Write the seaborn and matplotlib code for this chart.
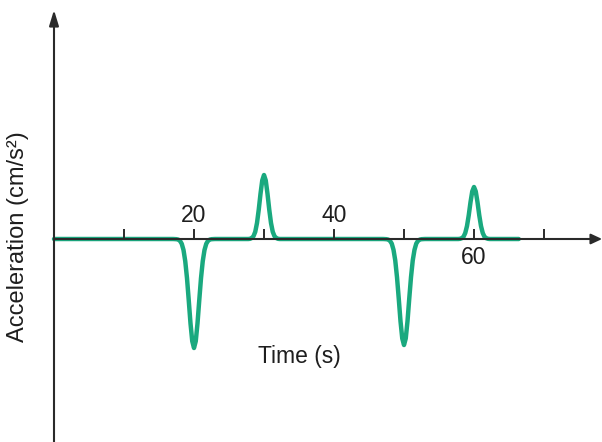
import matplotlib
matplotlib.use("Agg")
import matplotlib.pyplot as plt
import seaborn as sns
import pandas as pd

# ---- data ----
time_s = [0, 16.0, 16.5, 17.0, 17.5, 17.75, 18.0, 18.25, 18.5, 18.75, 19.0, 19.25, 19.5, 19.75,
          20.0, 20.25, 20.5, 20.75, 21.0, 21.25, 21.5, 21.75, 22.0, 22.25, 22.5, 23.0, 23.5, 24.0,
          27.75, 28.0, 28.25, 28.5, 28.75, 29.0, 29.25, 29.5, 29.75, 30.0, 30.25, 30.5, 30.75,
          31.0, 31.25, 31.5, 31.75, 32.0, 32.25,
          46.0, 46.5, 47.0, 47.5, 47.75, 48.0, 48.25, 48.5, 48.75, 49.0, 49.25, 49.5, 49.75,
          50.0, 50.25, 50.5, 50.75, 51.0, 51.25, 51.5, 51.75, 52.0, 52.25, 52.5, 53.0, 53.5, 54.0,
          57.75, 58.0, 58.25, 58.5, 58.75, 59.0, 59.25, 59.5, 59.75, 60.0, 60.25, 60.5, 60.75,
          61.0, 61.25, 61.5, 61.75, 62.0, 62.25, 66.4]
accel = [0, 0, 0, 0, -0.01, -0.03, -0.09, -0.24, -0.55, -1.11, -1.96, -3.07, -4.22, -5.11,
         -5.45, -5.11, -4.22, -3.07, -1.96, -1.11, -0.55, -0.24, -0.09, -0.03, -0.01, 0, 0, 0,
         0.0, 0.01, 0.05, 0.14, 0.36, 0.80, 1.47, 2.26, 2.93, 3.20, 2.93, 2.26, 1.47,
         0.80, 0.36, 0.14, 0.05, 0.01, 0.0,
         0, 0, 0, -0.01, -0.03, -0.09, -0.23, -0.54, -1.07, -1.91, -2.98, -4.11, -4.97,
         -5.30, -4.97, -4.11, -2.98, -1.91, -1.07, -0.54, -0.23, -0.09, -0.03, -0.01, 0, 0, 0,
         0.0, 0.01, 0.04, 0.11, 0.30, 0.65, 1.19, 1.84, 2.38, 2.60, 2.38, 1.84, 1.19,
         0.65, 0.30, 0.11, 0.04, 0.01, 0.0, 0]
tick_positions = [10, 20, 30, 40, 50, 60, 70]
tick_labels = ["20", "40", "60"]
label_positions = [20, 40, 60]

GREEN = "#1aa97f"
DARK = "#2a2a2a"
FONT = ["Liberation Sans", "DejaVu Sans"]

sns.set_theme(style="white")
plt.rcParams["font.family"] = FONT

fig = plt.figure(figsize=(6.02, 4.42), dpi=100)
ax = fig.add_axes([0, 0, 1, 1])
ax.set_xlim(-54 / 7, 548 / 7)
ax.set_ylim(-203 / 20, 239 / 20)
for s in ax.spines.values():
    s.set_visible(False)
ax.set_xticks([])
ax.set_yticks([])
ax.set_facecolor("white")

df = pd.DataFrame({"Time (s)": time_s, "Acceleration": accel})
sns.lineplot(data=df, x="Time (s)", y="Acceleration", ax=ax, color=GREEN, lw=3.2,
             estimator=None, sort=False, zorder=2)
ax.set_xlabel("")
ax.set_ylabel("")

# axes with arrow heads
ax.annotate("", xy=(78.3, 0), xytext=(0, 0),
            arrowprops=dict(arrowstyle="-|>,head_length=0.6,head_width=0.28",
                            color=DARK, lw=1.5, mutation_scale=11, shrinkA=0, shrinkB=0),
            zorder=3)
ax.annotate("", xy=(0, 11.45), xytext=(0, -10.3),
            arrowprops=dict(arrowstyle="-|>,head_length=0.85,head_width=0.26",
                            color=DARK, lw=1.5, mutation_scale=11, shrinkA=0, shrinkB=0),
            zorder=3)

ax.vlines(tick_positions, 0, 0.5, color=DARK, lw=1.4, zorder=3)

label_y = {20: 1.15, 40: 1.15, 60: -0.9}
for pos, lab in zip(label_positions, tick_labels):
    ax.text(pos, label_y[pos], lab, ha="center", va="center", fontsize=16.5, color="#1e1e1e")

ax.text(35.1, -5.85, "Time (s)", ha="center", va="center", fontsize=16.5, color="#1e1e1e")
ax.text(-5.1, 0.1, "Acceleration (cm/s²)", ha="center", va="center", rotation=90,
        fontsize=17, color="#1e1e1e")

fig.savefig("out.png", dpi=100, facecolor="white")
